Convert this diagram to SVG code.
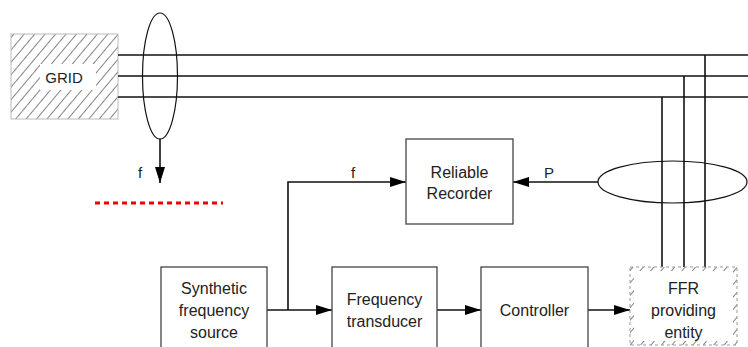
<svg xmlns="http://www.w3.org/2000/svg" width="748" height="347" viewBox="0 0 748 347">
<defs>
<pattern id="hatch" patternUnits="userSpaceOnUse" width="8" height="8" patternTransform="rotate(40)">
<rect width="8" height="8" fill="#fff"/>
<line x1="0" y1="0" x2="0" y2="8" stroke="#666" stroke-width="1.6"/>
</pattern>
<marker id="arr" viewBox="0 0 16 10" refX="16" refY="5" markerWidth="16" markerHeight="10" markerUnits="userSpaceOnUse" orient="auto">
<path d="M0,0 L16,5 L0,10 Z" fill="#000"/>
</marker>
<style>
.box{fill:#fff;stroke:#444;stroke-width:1.3}
.t{font-family:"Liberation Sans",Arial,sans-serif;font-size:16px;fill:#222;text-anchor:middle}
.ln{stroke:#111;stroke-width:1.6;fill:none}
.el{fill:none;stroke:#111;stroke-width:1.2}
</style>
</defs>
<g id="grid">
<rect x="11" y="34" width="107" height="85" fill="url(#hatch)" stroke="#bbb" stroke-width="1"/>
<rect x="40" y="64" width="56" height="26" fill="#fff"/>
<text class="t" x="64" y="83" style="font-size:15px">GRID</text>
</g>
<g id="connectors">
<line class="ln" x1="118" y1="55" x2="748" y2="55"/>
<line class="ln" x1="118" y1="76" x2="748" y2="76"/>
<line class="ln" x1="118" y1="97" x2="748" y2="97"/>
<line class="ln" x1="705" y1="55" x2="705" y2="267"/>
<line class="ln" x1="684" y1="76" x2="684" y2="267"/>
<line class="ln" x1="662" y1="97" x2="662" y2="267"/>
<line class="ln" x1="160" y1="139" x2="160" y2="183" marker-end="url(#arr)"/>
<line class="ln" x1="598" y1="182" x2="513" y2="182" marker-end="url(#arr)"/>
<polyline class="ln" points="288,310 288,182 406,182" marker-end="url(#arr)"/>
<line class="ln" x1="267" y1="310" x2="332" y2="310" marker-end="url(#arr)"/>
<line class="ln" x1="437" y1="310" x2="481" y2="310" marker-end="url(#arr)"/>
<line class="ln" x1="588" y1="310" x2="630" y2="310" marker-end="url(#arr)"/>
<line x1="95" y1="203" x2="223" y2="203" stroke="#e00" stroke-width="3" stroke-dasharray="5,4"/>
<text class="t" x="140" y="178" style="font-size:15px">f</text>
<text class="t" x="353" y="178" style="font-size:15px">f</text>
<text class="t" x="549" y="178" style="font-size:15px">P</text>
</g>
<g id="ellipse-f">
<ellipse class="el" cx="160" cy="76" rx="17.5" ry="63"/>
</g>
<g id="ellipse-p">
<ellipse class="el" cx="672.5" cy="182" rx="74.5" ry="21"/>
</g>
<g id="recorder">
<rect class="box" x="406" y="139" width="107" height="85"/>
<text class="t" x="459.5" y="178">Reliable</text>
<text class="t" x="459.5" y="199">Recorder</text>
</g>
<g id="synthetic">
<rect class="box" x="161" y="267" width="106" height="85"/>
<text class="t" x="214" y="294">Synthetic</text>
<text class="t" x="214" y="316">frequency</text>
<text class="t" x="214" y="338">source</text>
</g>
<g id="transducer">
<rect class="box" x="332" y="267" width="105" height="85"/>
<text class="t" x="384.5" y="305">Frequency</text>
<text class="t" x="384.5" y="327">transducer</text>
</g>
<g id="controller">
<rect class="box" x="481" y="267" width="107" height="85"/>
<text class="t" x="534.5" y="316">Controller</text>
</g>
<g id="ffr">
<rect x="630" y="267" width="107" height="78" fill="url(#hatch)" stroke="#999" stroke-width="1" stroke-dasharray="3,3"/>
<rect x="634" y="271" width="99" height="70" fill="#fff"/>
<text class="t" x="683.5" y="294">FFR</text>
<text class="t" x="683.5" y="316">providing</text>
<text class="t" x="683.5" y="338">entity</text>
</g>
</svg>
